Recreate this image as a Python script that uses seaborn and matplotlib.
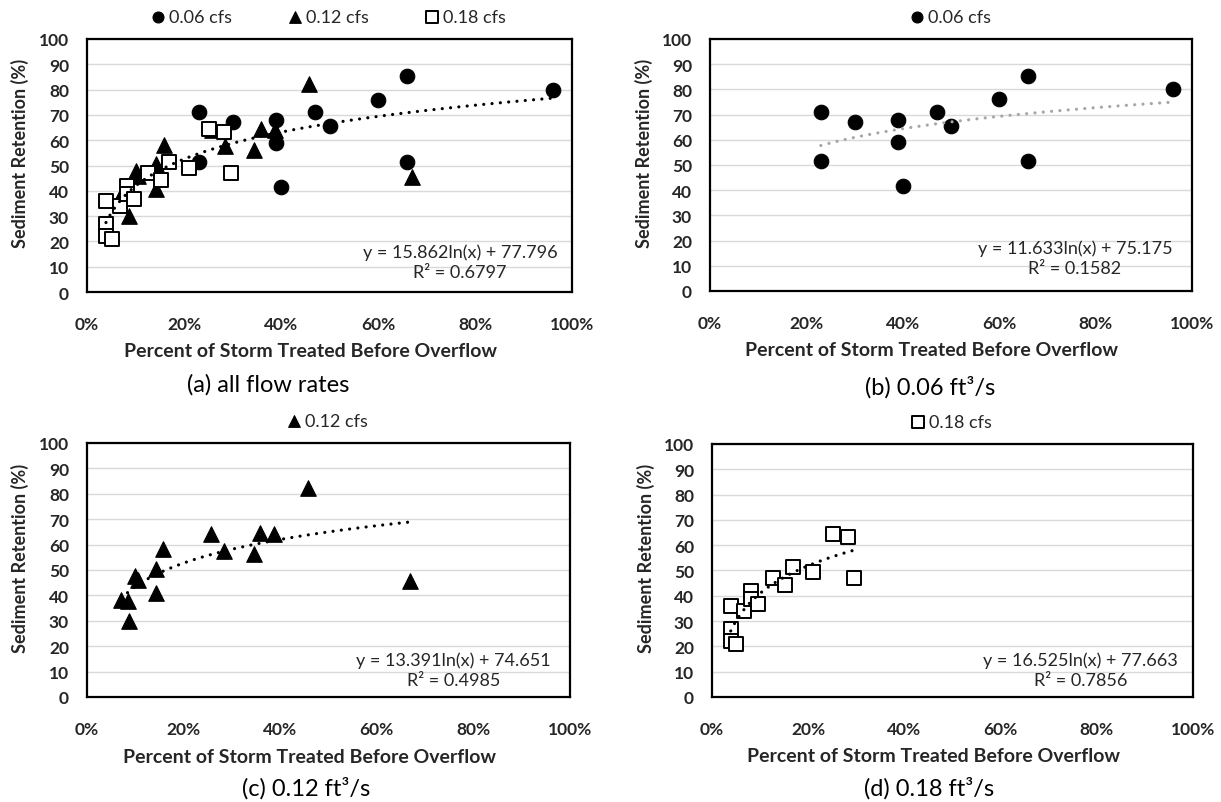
import numpy as np
import matplotlib
matplotlib.use("Agg")
import matplotlib.pyplot as plt
from matplotlib.ticker import PercentFormatter
import seaborn as sns

# ── Data ──────────────────────────────────────────────────────────────────────

# 0.06 cfs
x_006 = [0.23, 0.23, 0.30, 0.39, 0.39, 0.40, 0.47, 0.50, 0.60, 0.66, 0.66, 0.96]
y_006 = [71.0, 51.5, 67.0, 68.0, 59.0, 41.5, 71.0, 65.5, 76.0, 85.5, 51.5, 80.0]

# 0.12 cfs
x_012 = [0.071, 0.085, 0.087, 0.100, 0.106, 0.142, 0.142, 0.158, 0.257,
         0.284, 0.345, 0.358, 0.387, 0.457, 0.669]
y_012 = [38.2, 37.6, 30.0, 47.8, 46.0, 50.4, 40.8, 58.3, 64.2,
         57.6, 56.3, 64.5, 64.1, 82.2, 45.5]

# 0.18 cfs
x_018 = [0.039, 0.039, 0.039, 0.051, 0.067, 0.082, 0.082, 0.096, 0.126,
         0.152, 0.169, 0.211, 0.251, 0.282, 0.296]
y_018 = [36.0, 26.8, 22.2, 20.8, 34.0, 42.0, 38.7, 36.7, 47.0,
         44.3, 51.2, 49.2, 64.6, 63.3, 47.2]

equations = ["y = 15.862ln(x) + 77.796\nR² = 0.6797",
             "y = 11.633ln(x) + 75.175\nR² = 0.1582",
             "y = 13.391ln(x) + 74.651\nR² = 0.4985",
             "y = 16.525ln(x) + 77.663\nR² = 0.7856"]
captions = ["(a) all flow rates", "(b) 0.06 ft³/s", "(c) 0.12 ft³/s", "(d) 0.18 ft³/s"]
series_labels = ["0.06 cfs", "0.12 cfs", "0.18 cfs"]

# ── Style ─────────────────────────────────────────────────────────────────────

sns.set_theme(style="white")
plt.rcParams["font.family"] = ["Lato", "DejaVu Sans"]

TXT = "#262626"
MARKERS = {
    "0.06 cfs": dict(marker="o", s=110, color="black", edgecolor="black", linewidth=0.8),
    "0.12 cfs": dict(marker="^", s=125, color="black", edgecolor="black", linewidth=0.8),
    "0.18 cfs": dict(marker="s", s=115, color="white", edgecolor="black", linewidth=1.4),
}
SERIES = {
    "0.06 cfs": (x_006, y_006),
    "0.12 cfs": (x_012, y_012),
    "0.18 cfs": (x_018, y_018),
}

fig = plt.figure(figsize=(12.21, 8.03), dpi=100)

# axes rectangles in figure fraction (left, bottom, width, height)
rects = [
    (0.0713, 0.6351, 0.3972, 0.3151),
    (0.5815, 0.6364, 0.3948, 0.3138),
    (0.0713, 0.1308, 0.3956, 0.3163),
    (0.5831, 0.1308, 0.3939, 0.3151),
]
panel_series = [series_labels, ["0.06 cfs"], ["0.12 cfs"], ["0.18 cfs"]]
trend_color = ["black", "#a6a6a6", "black", "black"]
eq_pos = [(0.769, 0.12), (0.757, 0.133), (0.759, 0.109), (0.766, 0.109)]
cap_pos = [(268, 385), (930, 387), (306, 788), (929, 788)]


def style_axes(ax):
    ax.set_xlim(0, 1)
    ax.set_ylim(0, 100)
    ax.set_xticks(np.arange(0, 1.01, 0.2))
    ax.set_yticks(np.arange(0, 101, 10))
    ax.xaxis.set_major_formatter(PercentFormatter(1.0, decimals=0))
    ax.yaxis.grid(True, color="#d9d9d9", lw=1)
    ax.xaxis.grid(False)
    ax.set_axisbelow(True)
    for sp in ax.spines.values():
        sp.set_visible(True)
        sp.set_color("black")
        sp.set_linewidth(1.6)
    ax.tick_params(axis="x", length=0, pad=17, labelsize=12.5, labelcolor=TXT)
    ax.tick_params(axis="y", length=0, pad=13, labelsize=12.5, labelcolor=TXT)
    for lab in ax.get_xticklabels() + ax.get_yticklabels():
        lab.set_fontweight("bold")
    ax.set_xlabel("Percent of Storm Treated Before Overflow",
                  fontsize=14, fontweight="bold", color=TXT)
    ax.xaxis.set_label_coords(0.46, -0.233)
    ax.xaxis.label.set_va("center")
    ax.set_ylabel("Sediment Retention (%)",
                  fontsize=13, fontweight="bold", color=TXT)
    ax.yaxis.set_label_coords(-0.138, 0.55)
    ax.yaxis.label.set_va("center")


for i, rect in enumerate(rects):
    ax = fig.add_axes(rect)
    xs, ys = [], []
    for name in panel_series[i]:
        sx, sy = SERIES[name]
        xs += sx
        ys += sy
        sns.scatterplot(x=sx, y=sy, ax=ax, label=name, zorder=3, **MARKERS[name])

    # logarithmic trendline fitted by seaborn
    sns.regplot(x=np.array(xs), y=np.array(ys), logx=True, ci=None, scatter=False,
                ax=ax, color=trend_color[i],
                line_kws=dict(lw=2.3, linestyle=(0, (0.01, 2.6)),
                              dash_capstyle="round", zorder=4))

    style_axes(ax)
    ax.text(eq_pos[i][0], eq_pos[i][1], equations[i], transform=ax.transAxes,
            ha="center", va="center", multialignment="center",
            fontsize=13, color=TXT, linespacing=1.3)

    ax.legend(loc="center", bbox_to_anchor=(0.5, 1.087), ncol=3,
              frameon=False, handlelength=0.6, handletextpad=0.3,
              columnspacing=3.2, markerscale=0.75, fontsize=13,
              borderaxespad=0.0, borderpad=0.0, labelcolor=TXT)

    cx, cy = cap_pos[i]
    fig.text(cx / 1221, 1 - cy / 803, captions[i], ha="center", va="center",
             fontsize=17, color="black")

fig.savefig("out.png", dpi=100)
